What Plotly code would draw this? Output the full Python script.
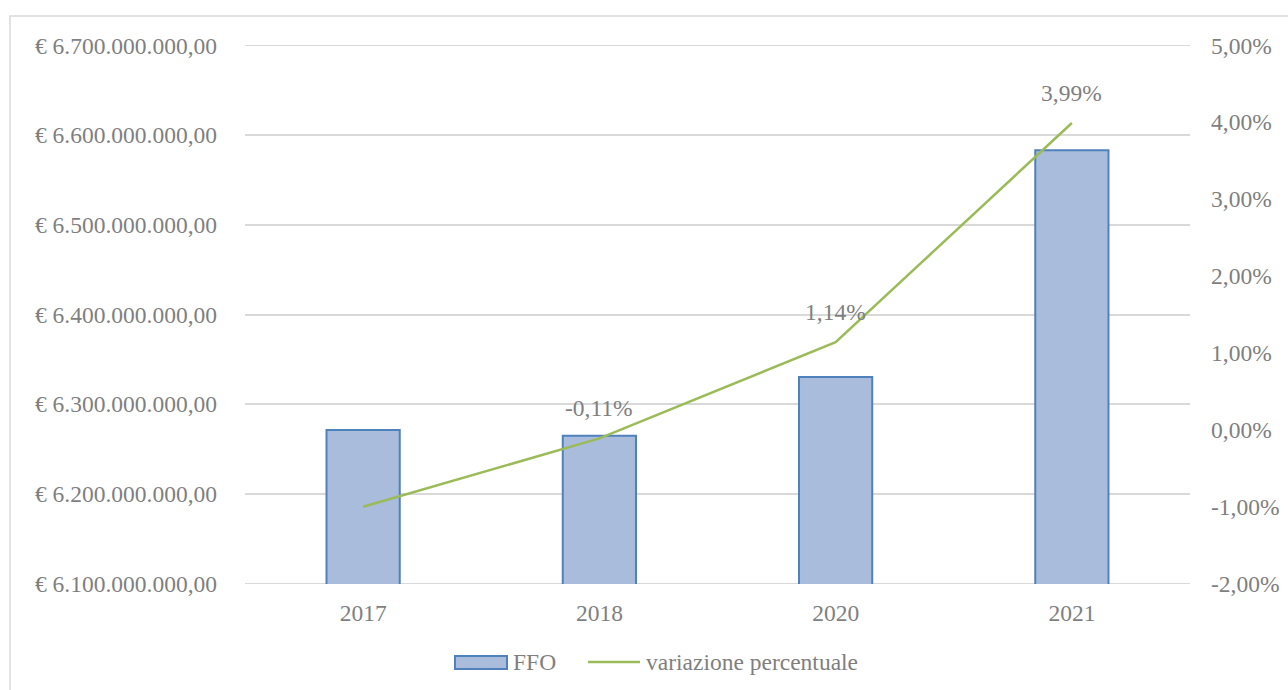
import plotly.graph_objects as go

years = ["2017", "2018", "2020", "2021"]
ffo = [6.2714e9, 6.2648e9, 6.3304e9, 6.5831e9]
variazione = [-1.00, -0.11, 1.14, 3.99]
var_labels = [None, "-0,11%", "1,14%", "3,99%"]

left_ticks = [6.1e9, 6.2e9, 6.3e9, 6.4e9, 6.5e9, 6.6e9, 6.7e9]
left_text = ["€ 6.100.000.000,00", "€ 6.200.000.000,00", "€ 6.300.000.000,00",
             "€ 6.400.000.000,00", "€ 6.500.000.000,00", "€ 6.600.000.000,00",
             "€ 6.700.000.000,00"]
right_ticks = [-2, -1, 0, 1, 2, 3, 4, 5]
right_text = ["-2,00%", "-1,00%", "0,00%", "1,00%", "2,00%", "3,00%", "4,00%", "5,00%"]

FONT = "Liberation Serif"
GRAY = "#7f7f7f"
GRID = "#d9d9d9"
FS = 23.5
BAR_FILL = "#a9bcdb"
BAR_LINE = "#4f81bd"
LINE_COL = "#9bbb59"

# plot area in pixels
L, R, T, B = 245, 1190, 45, 584
W, H = R - L, B - T
def px(x):
    return (x - L) / W
def py(y):
    return (B - y) / H

fig = go.Figure()
fig.add_trace(go.Bar(
    x=years, y=ffo, name="FFO",
    marker=dict(color=BAR_FILL, line=dict(color=BAR_LINE, width=2)),
    width=0.31, yaxis="y",
))
fig.add_trace(go.Scatter(
    x=years, y=variazione, name="variazione percentuale",
    mode="lines", line=dict(color=LINE_COL, width=2.5),
    yaxis="y2",
))

for i, (v, t) in enumerate(zip(variazione, var_labels)):
    if t:
        fig.add_annotation(x=i, xref="x", y=v, yref="y2", text=t, showarrow=False,
                           yshift=30, font=dict(family=FONT, size=FS, color=GRAY))

# edge gridlines (plotly skips gridlines lying on the plot edges)
for yv in (left_ticks[0], left_ticks[-1]):
    fig.add_shape(type="line", xref="paper", yref="y", x0=0, x1=1, y0=yv, y1=yv,
                  line=dict(color=GRID, width=1.5), layer="below")

# chart border
fig.add_shape(type="rect", xref="paper", yref="paper",
              x0=px(10), x1=px(1300), y0=py(700), y1=py(16),
              line=dict(color=GRID, width=1.5), fillcolor="rgba(0,0,0,0)", layer="below")

# custom legend
ly = 662
fig.add_shape(type="rect", xref="paper", yref="paper",
              x0=px(455), x1=px(507), y0=py(669), y1=py(656),
              line=dict(color=BAR_LINE, width=2), fillcolor=BAR_FILL)
fig.add_annotation(xref="paper", yref="paper", x=px(511), y=py(ly), xanchor="left",
                   yanchor="middle", text="FFO", showarrow=False,
                   font=dict(family=FONT, size=FS, color=GRAY))
fig.add_shape(type="line", xref="paper", yref="paper",
              x0=px(588), x1=px(640), y0=py(ly), y1=py(ly),
              line=dict(color=LINE_COL, width=2.5))
fig.add_annotation(xref="paper", yref="paper", x=px(644), y=py(ly), xanchor="left",
                   yanchor="middle", text="variazione percentuale", showarrow=False,
                   font=dict(family=FONT, size=FS, color=GRAY))

eps_l = 3e5
eps_r = 0.0035
fig.update_layout(
    width=1288, height=690,
    margin=dict(l=L, r=1288 - R, t=T, b=690 - B, autoexpand=False),
    paper_bgcolor="white", plot_bgcolor="white",
    font=dict(family=FONT, size=FS, color=GRAY),
    showlegend=False,
    xaxis=dict(type="category", range=[-0.5, 3.5], showgrid=False, showline=False,
               ticks="", automargin=False, ticklabelstandoff=12,
               tickfont=dict(family=FONT, size=FS, color=GRAY)),
    yaxis=dict(range=[6.1e9 - eps_l, 6.7e9 + eps_l], tickvals=left_ticks, ticktext=left_text,
               showgrid=True, gridcolor=GRID, gridwidth=1.5, zeroline=False,
               showline=False, ticklabelstandoff=27, automargin=False,
               tickfont=dict(family=FONT, size=FS, color=GRAY)),
    yaxis2=dict(range=[-2 - eps_r, 5 + eps_r], tickvals=right_ticks, ticktext=right_text,
                overlaying="y", side="right", showgrid=False, zeroline=False,
                showline=False, ticklabelstandoff=20, automargin=False,
                tickfont=dict(family=FONT, size=FS, color=GRAY)),
)

fig.write_html("out.html", config={"displayModeBar": False},
               post_script="document.body.style.margin='0px';document.body.style.padding='0px';")
